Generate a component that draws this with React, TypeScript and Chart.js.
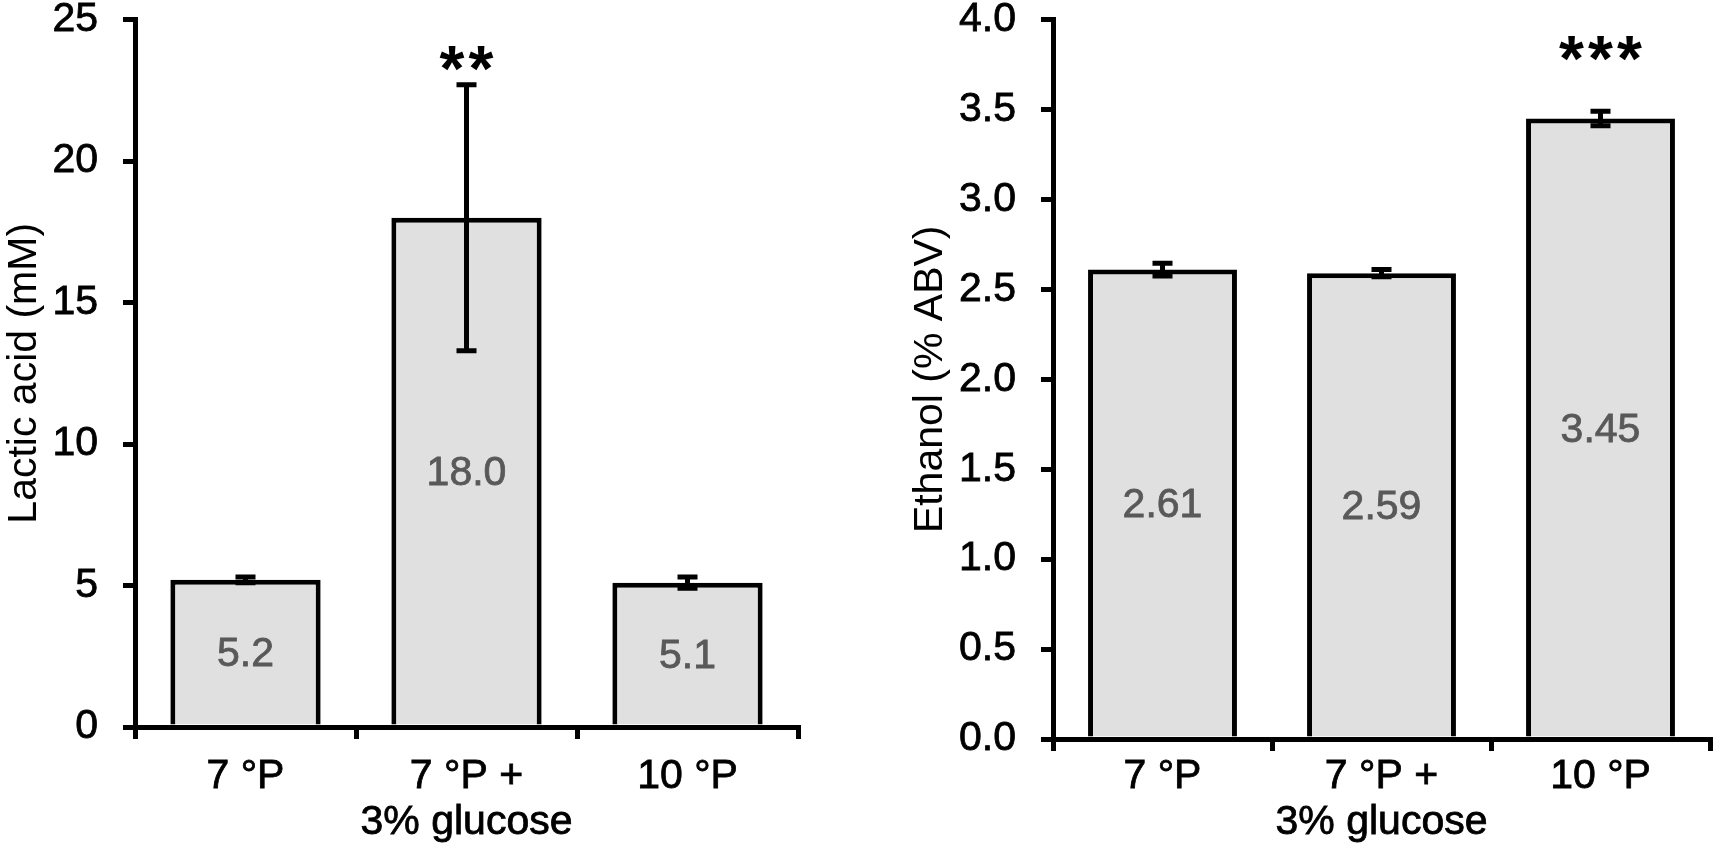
import { useEffect, useRef } from "react";
import { Chart, registerables } from "chart.js";

Chart.register(...registerables);
Chart.defaults.font.family = "Arial, 'Liberation Sans', sans-serif";

// categories shared by both panels
const categories = ["7 °P", ["7 °P +", "3% glucose"], "10 °P"];

// lactic acid (mM)
const lacticMeans = [5.2, 18.0, 5.1];
const lacticErrors = [0.1, 4.7, 0.2];
const lacticValueLabels = ["5.2", "18.0", "5.1"];
const lacticStars = ["", "**", ""];

// ethanol (% ABV)
const ethanolMeans = [2.61, 2.59, 3.45];
const ethanolErrors = [0.035, 0.02, 0.04];
const ethanolValueLabels = ["2.61", "2.59", "3.45"];
const ethanolStars = ["", "", "***"];

const BAR_FILL = "#e0e0e0";
const LINE = 5;
const FONT = "Arial, 'Liberation Sans', sans-serif";

type PanelProps = {
  left: number;
  axisWidth: number;
  padTop: number;
  padRight: number;
  xAxisHeight: number;
  xLabelPad: number;
  yMax: number;
  yStep: number;
  decimals: number;
  title: string;
  means: number[];
  errors: number[];
  valueLabels: string[];
  stars: string[];
  starBaseline: number;
};

// error bars, value labels inside bars and significance stars
function makeExtras(p: PanelProps) {
  return {
    id: "barExtras",
    afterDatasetsDraw(chart: any) {
      const { ctx, chartArea } = chart;
      const yScale = chart.scales.y;
      const meta = chart.getDatasetMeta(0);
      ctx.save();
      meta.data.forEach((bar: any, i: number) => {
        const x = bar.x;
        const m = p.means[i];
        const e = p.errors[i];
        const yTop = yScale.getPixelForValue(m + e);
        const yBot = yScale.getPixelForValue(m - e);
        ctx.strokeStyle = "#000";
        ctx.lineWidth = LINE;
        ctx.beginPath();
        ctx.moveTo(x, yTop);
        ctx.lineTo(x, yBot);
        ctx.moveTo(x - 10, yTop);
        ctx.lineTo(x + 10, yTop);
        ctx.moveTo(x - 10, yBot);
        ctx.lineTo(x + 10, yBot);
        ctx.stroke();

        ctx.fillStyle = "#595959";
        ctx.strokeStyle = "#595959";
        ctx.lineWidth = 0.8;
        ctx.font = `41px ${FONT}`;
        ctx.textAlign = "center";
        ctx.textBaseline = "middle";
        const ly = (bar.y + bar.base) / 2 + 3;
        ctx.fillText(p.valueLabels[i], x, ly);
        ctx.strokeText(p.valueLabels[i], x, ly);

        const s = p.stars[i];
        if (s) {
          ctx.fillStyle = "#000";
          ctx.font = `bold 64px ${FONT}`;
          ctx.textBaseline = "alphabetic";
          const gap = 29;
          const x0 = x - ((s.length - 1) * gap) / 2;
          for (let k = 0; k < s.length; k++) {
            ctx.fillText(s[k], x0 + k * gap, chartArea.top + p.starBaseline);
          }
        }
      });
      ctx.restore();
    },
  };
}

function Panel(p: PanelProps) {
  const canvasRef = useRef<HTMLCanvasElement | null>(null);

  useEffect(() => {
    if (!canvasRef.current) return;
    const ctx = canvasRef.current.getContext("2d");
    if (!ctx) return;

    const chart = new Chart(ctx, {
      type: "bar",
      data: {
        labels: categories,
        datasets: [
          {
            data: p.means,
            backgroundColor: BAR_FILL,
            borderColor: "#000",
            borderWidth: LINE,
            barPercentage: 0.68,
            categoryPercentage: 1,
          },
        ],
      },
      options: {
        responsive: false,
        maintainAspectRatio: false,
        animation: false,
        layout: { padding: { top: p.padTop, right: p.padRight, left: 0, bottom: 0 } },
        plugins: {
          legend: { display: false },
          tooltip: { enabled: false },
        },
        scales: {
          x: {
            grid: {
              offset: true,
              drawOnChartArea: false,
              drawTicks: true,
              tickLength: 12,
              lineWidth: LINE,
              color: "#000",
            },
            border: { display: true, color: "#000", width: LINE },
            ticks: {
              color: "#000",
              padding: p.xLabelPad,
              font: { size: 41, lineHeight: 1.12 },
              textStrokeColor: "#000",
              textStrokeWidth: 0.8,
              maxRotation: 0,
              autoSkip: false,
            },
            afterFit: (s: any) => {
              s.height = p.xAxisHeight;
            },
          },
          y: {
            min: 0,
            max: p.yMax,
            grid: {
              drawOnChartArea: false,
              drawTicks: true,
              tickLength: 12,
              lineWidth: LINE,
              color: "#000",
            },
            border: { display: true, color: "#000", width: LINE },
            ticks: {
              stepSize: p.yStep,
              color: "#000",
              padding: 25,
              font: { size: 41 },
              textStrokeColor: "#000",
              textStrokeWidth: 0.8,
              callback: (v: any) => Number(v).toFixed(p.decimals),
            },
            title: {
              display: true,
              text: p.title,
              color: "#000",
              padding: 0,
              font: { size: 41, lineHeight: 1.2 },
            },
            afterFit: (s: any) => {
              s.width = p.axisWidth;
            },
          },
        },
      } as any,
      plugins: [makeExtras(p)],
    });

    return () => {
      chart.destroy();
    };
  }, []);

  return (
    <canvas
      ref={canvasRef}
      width={810}
      height={881}
      style={{ position: "absolute", left: p.left, top: -30, width: 810, height: 881 }}
    />
  );
}

export default function App() {
  return (
    <div
      style={{
        position: "fixed",
        left: 0,
        top: 0,
        width: 1716,
        height: 851,
        overflow: "hidden",
        background: "#fff",
      }}
    >
      <Panel
        left={0}
        axisWidth={135}
        padTop={49}
        padRight={12}
        xAxisHeight={124}
        xLabelPad={15}
        yMax={25}
        yStep={5}
        decimals={0}
        title="Lactic acid (mM)"
        means={lacticMeans}
        errors={lacticErrors}
        valueLabels={lacticValueLabels}
        stars={lacticStars}
        starBaseline={71}
      />
      <Panel
        left={906}
        axisWidth={147}
        padTop={47}
        padRight={6}
        xAxisHeight={112}
        xLabelPad={3}
        yMax={4}
        yStep={0.5}
        decimals={1}
        title="Ethanol (% ABV)"
        means={ethanolMeans}
        errors={ethanolErrors}
        valueLabels={ethanolValueLabels}
        stars={ethanolStars}
        starBaseline={61}
      />
    </div>
  );
}
